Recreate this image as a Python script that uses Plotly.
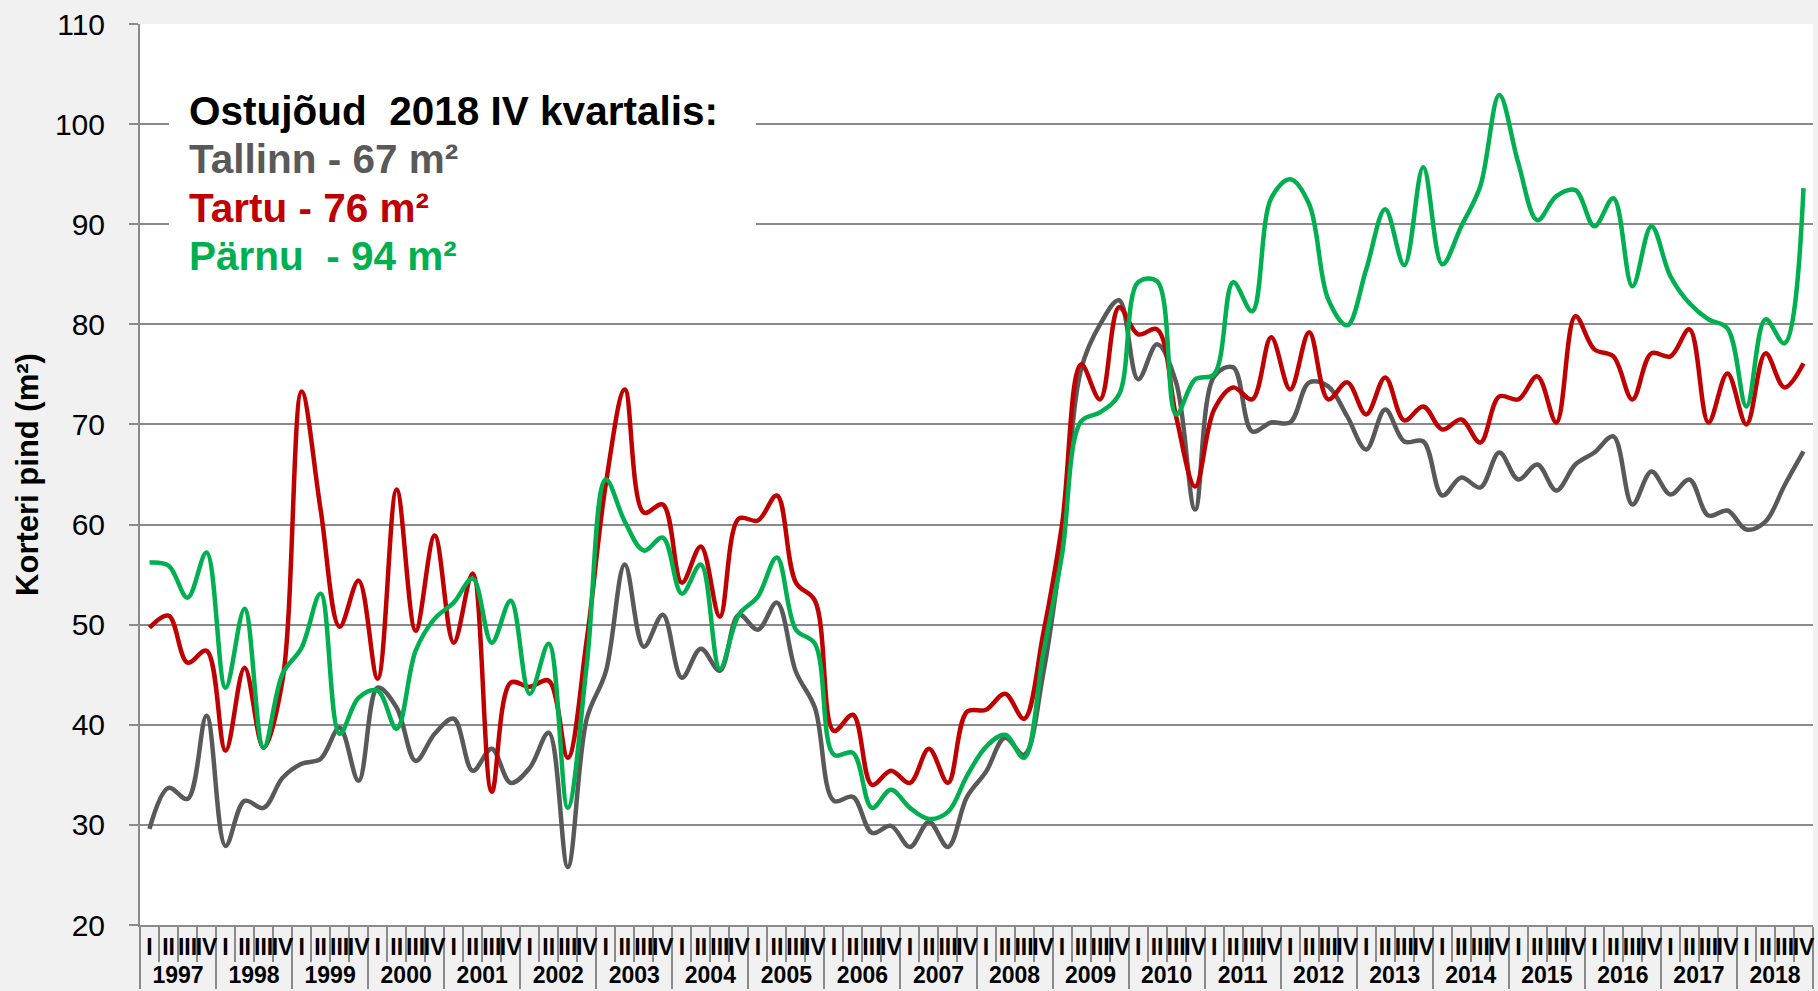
import plotly.graph_objects as go

years = [str(y) for y in range(1997, 2019)]
quarters = ["I", "II", "III", "IV"]

tallinn = [29.6, 33.7, 32.6, 40.9, 27.9, 32.4, 31.7, 34.7, 36.1, 36.6, 39.7, 34.4,
           43.7, 41.7, 36.4, 39.1, 40.6, 35.4, 37.6, 34.2, 35.7, 39.2, 25.8, 40.6,
           45.3, 56.0, 47.8, 51.0, 44.7, 47.6, 45.4, 51.0, 49.5, 52.2, 45.3, 41.7,
           32.4, 32.8, 29.2, 29.9, 27.8, 30.3, 27.8, 32.8, 35.3, 38.7, 37.0, 45.0,
           58.0, 75.5, 80.0, 82.4, 74.5, 78.0, 74.2, 61.5, 74.8, 75.7, 69.3, 70.2,
           70.2, 74.2, 73.8, 70.8, 67.5, 71.5, 68.3, 68.3, 62.9, 64.7, 63.7, 67.2,
           64.5, 66.0, 63.4, 66.0, 67.2, 68.8, 62.0, 65.3, 63.0, 64.5, 60.9, 61.4,
           59.5, 60.3, 63.9, 67.3]

tartu = [49.7, 50.9, 46.2, 47.4, 37.4, 45.7, 37.7, 44.5, 73.3, 61.5, 49.8, 54.4,
         44.6, 63.5, 49.4, 58.9, 48.2, 55.1, 33.3, 44.2, 43.8, 44.4, 36.7, 48.5,
         64.0, 73.5, 61.2, 62.0, 54.2, 57.8, 50.8, 60.6, 60.4, 62.9, 54.2, 52.4,
         39.4, 41.0, 34.0, 35.4, 34.2, 37.6, 34.2, 41.3, 41.5, 43.1, 40.6, 49.0,
         60.0, 76.0, 72.5, 81.7, 79.0, 79.5, 70.8, 63.8, 71.5, 73.7, 72.5, 78.7,
         73.5, 79.2, 72.5, 74.2, 71.0, 74.7, 70.4, 71.8, 69.5, 70.5, 68.2, 72.8,
         72.5, 74.8, 70.2, 80.8, 77.5, 76.8, 72.5, 77.1, 76.8, 79.5, 70.2, 75.1,
         70.0, 77.1, 73.7, 76.1]

parnu = [56.2, 55.9, 52.7, 57.2, 43.7, 51.6, 37.7, 45.1, 47.7, 53.1, 39.1, 42.7,
         43.4, 39.6, 47.4, 50.6, 52.2, 54.6, 48.2, 52.4, 43.1, 48.1, 31.7, 46.0,
         64.5, 60.3, 57.4, 58.7, 53.1, 56.0, 45.6, 51.0, 52.8, 56.7, 49.5, 48.1,
         37.0, 37.2, 31.7, 33.5, 31.7, 30.6, 31.3, 34.9, 37.8, 39.0, 36.7, 47.0,
         57.0, 70.3, 71.2, 73.0, 84.2, 84.3, 71.0, 74.5, 75.0, 84.2, 81.3, 92.6,
         94.5, 92.0, 82.5, 79.9, 85.5, 91.5, 85.9, 95.7, 86.0, 89.8, 93.8, 102.9,
         96.1, 90.4, 92.8, 93.4, 89.8, 92.6, 83.8, 89.8, 84.8, 82.1, 80.5, 79.6,
         71.8, 80.5, 78.1, 93.6]

series = [("Tallinn", tallinn, "#595959"),
          ("Tartu", tartu, "#C00000"),
          ("Pärnu", parnu, "#00B050")]

box_title = "Ostujõud\u00a0 2018 IV kvartalis:"
box_lines = [("Tallinn - 67 m²", "#595959"),
             ("Tartu - 76 m²", "#C00000"),
             ("Pärnu\u00a0 - 94 m²", "#00B050")]

FONT = "Liberation Sans, Arial, sans-serif"
GRID = "#8a8a8a"
BG = "#f1f1f1"

x = [[y for y in years for q in quarters], [q for y in years for q in quarters]]
n = len(x[0])

fig = go.Figure()
for name, vals, color in series:
    fig.add_trace(go.Scatter(
        x=x, y=vals, mode="lines", name=name, showlegend=False,
        line=dict(color=color, width=4.5, shape="spline", smoothing=1.0),
    ))

# white box behind the text
fig.add_shape(type="rect", xref="paper", yref="paper",
              x0=0.0173, x1=0.3682, y0=0.6937, y1=0.9412,
              fillcolor="white", line=dict(width=0), layer="above")

ys = [0.9034, 0.8502, 0.7958, 0.7425]
texts = [(box_title, "#000000")] + box_lines
for (t, c), yy in zip(texts, ys):
    fig.add_annotation(xref="paper", yref="paper", x=0.0278, y=yy,
                       xanchor="left", yanchor="middle", showarrow=False,
                       text=t, font=dict(family=FONT, size=40.5, color=c, weight="bold"))

fig.update_layout(
    width=1818, height=991,
    margin=dict(l=140, r=5, t=24, b=66),
    paper_bgcolor=BG,
    plot_bgcolor="#ffffff",
    font=dict(family=FONT, color="#000000"),
)

fig.update_xaxes(
    type="multicategory",
    range=[-0.5, n - 0.5],
    dtick=1,
    showline=True, linecolor=GRID, linewidth=2,
    ticks="outside", ticklen=35, tickcolor=GRID, tickwidth=2,
    tickfont=dict(family=FONT, size=23, color="#000000", weight="bold"),
    tickangle=0,
    showdividers=True, dividercolor=GRID, dividerwidth=2,
    showgrid=False, automargin=False,
)

fig.update_yaxes(
    range=[20, 110], tick0=20, dtick=10,
    showgrid=True, gridcolor=GRID, gridwidth=2,
    showline=True, linecolor=GRID, linewidth=2,
    ticks="outside", ticklen=9, tickcolor=GRID, tickwidth=2,
    tickfont=dict(family=FONT, size=30, color="#000000"),
    ticklabelstandoff=18,
    zeroline=False, automargin=False,
    title=dict(text="Korteri pind (m²)", standoff=7,
               font=dict(family=FONT, size=31, color="#000000", weight="bold")),
)

post = ("document.body.style.margin='0';"
        "document.body.style.padding='0';"
        "document.body.style.overflow='hidden';"
        f"document.body.style.background='{BG}';")

fig.write_html("out.html", post_script=post, config={"displayModeBar": False})
